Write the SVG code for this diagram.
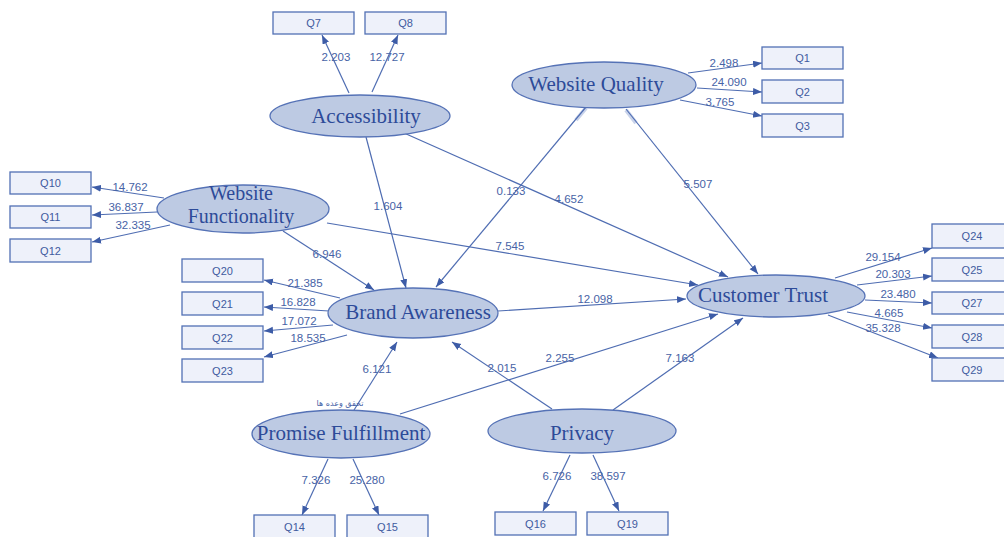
<svg xmlns="http://www.w3.org/2000/svg" width="1004" height="537" viewBox="0 0 1004 537">
<style>
.bg{fill:#ffffff}
.lat ellipse{fill:#bdcae3;stroke:#5572b6;stroke-width:1.3}
.lat text{font-family:"Liberation Serif",serif;font-size:21px;fill:#2d4b99;text-anchor:middle}
.lat text.two{font-size:20px}
.ind rect{fill:#eef1fa;stroke:#5270b4;stroke-width:1.3}
.ind text{font-family:"Liberation Sans",sans-serif;font-size:11px;fill:#3f5b9f;text-anchor:middle}
#connectors line{stroke:#4f6db2;stroke-width:1.2;marker-end:url(#arr)}
#connectors line.ghost{stroke:#c9d3ea;stroke-width:4;marker-end:none}
.lbl{font-family:"Liberation Sans",sans-serif;font-size:11.5px;fill:#4763a6;text-anchor:middle}
.fa{font-family:"DejaVu Sans",sans-serif;font-size:8px;fill:#4763a6;text-anchor:middle}
</style>
<defs>
<marker id="arr" markerUnits="userSpaceOnUse" markerWidth="10" markerHeight="8" refX="9" refY="3.5" orient="auto">
<path d="M0,0 L9,3.5 L0,7 z" fill="#3d5ca7"/>
</marker>
</defs>
<rect class="bg" x="0" y="0" width="1004" height="537"/>

<g id="connectors">
<line class="ghost" x1="586" y1="108" x2="576" y2="120"/>
<line class="ghost" x1="626" y1="110" x2="636" y2="123"/>
<!-- Accessibility -->
<line x1="349" y1="93" x2="322" y2="35"/>
<line x1="372" y1="92" x2="398" y2="35"/>
<line x1="366" y1="137" x2="406" y2="288"/>
<line x1="404" y1="133" x2="728" y2="277"/>
<!-- Website Quality -->
<line x1="688" y1="73" x2="762" y2="63"/>
<line x1="697" y1="88" x2="762" y2="92"/>
<line x1="680" y1="100" x2="762" y2="116"/>
<line x1="586" y1="107" x2="436" y2="287"/>
<line x1="626" y1="109" x2="758" y2="274"/>
<!-- Website Functionality -->
<line x1="164" y1="198" x2="92" y2="187"/>
<line x1="157" y1="212" x2="92" y2="215"/>
<line x1="170" y1="225" x2="92" y2="242"/>
<line x1="283" y1="231" x2="374" y2="290"/>
<line x1="327" y1="223" x2="698" y2="285"/>
<!-- Brand Awareness -->
<line x1="340" y1="298" x2="264" y2="280"/>
<line x1="329" y1="311" x2="264" y2="307"/>
<line x1="333" y1="325" x2="264" y2="331"/>
<line x1="347" y1="335" x2="264" y2="357"/>
<line x1="498" y1="311" x2="686" y2="299"/>
<!-- Customer Trust -->
<line x1="835" y1="278" x2="932" y2="248"/>
<line x1="857" y1="285" x2="932" y2="276"/>
<line x1="865" y1="300" x2="932" y2="303"/>
<line x1="847" y1="312" x2="932" y2="328"/>
<line x1="828" y1="315" x2="938" y2="358"/>
<!-- Promise Fulfillment -->
<line x1="354" y1="410" x2="397" y2="342"/>
<line x1="400" y1="414" x2="718" y2="314"/>
<line x1="328" y1="459" x2="302" y2="515"/>
<line x1="353" y1="459" x2="379" y2="515"/>
<!-- Privacy -->
<line x1="552" y1="409" x2="452" y2="342"/>
<line x1="613" y1="410" x2="743" y2="318"/>
<line x1="570" y1="455" x2="543" y2="511"/>
<line x1="593" y1="455" x2="619" y2="511"/>
</g>

<g id="labels">
<text class="lbl" x="336" y="61">2.203</text>
<text class="lbl" x="387" y="61">12.727</text>
<text class="lbl" x="724" y="67">2.498</text>
<text class="lbl" x="729" y="86">24.090</text>
<text class="lbl" x="720" y="106">3.765</text>
<text class="lbl" x="130" y="191">14.762</text>
<text class="lbl" x="126" y="211">36.837</text>
<text class="lbl" x="133" y="229">32.335</text>
<text class="lbl" x="388" y="210">1.604</text>
<text class="lbl" x="511" y="195">0.133</text>
<text class="lbl" x="569" y="203">4.652</text>
<text class="lbl" x="698" y="188">5.507</text>
<text class="lbl" x="327" y="258">6.946</text>
<text class="lbl" x="510" y="250">7.545</text>
<text class="lbl" x="305" y="287">21.385</text>
<text class="lbl" x="298" y="306">16.828</text>
<text class="lbl" x="299" y="325">17.072</text>
<text class="lbl" x="308" y="342">18.535</text>
<text class="lbl" x="595" y="303">12.098</text>
<text class="lbl" x="883" y="261">29.154</text>
<text class="lbl" x="893" y="278">20.303</text>
<text class="lbl" x="898" y="298">23.480</text>
<text class="lbl" x="889" y="317">4.665</text>
<text class="lbl" x="883" y="332">35.328</text>
<text class="lbl" x="377" y="373">6.121</text>
<text class="lbl" x="560" y="362">2.255</text>
<text class="lbl" x="502" y="372">2.015</text>
<text class="lbl" x="680" y="362">7.163</text>
<text class="lbl" x="316" y="484">7.326</text>
<text class="lbl" x="367" y="484">25.280</text>
<text class="lbl" x="557" y="480">6.726</text>
<text class="lbl" x="608" y="480">38.597</text>
<text class="fa" x="340" y="406">تحقق وعده ها</text>
</g>

<g id="n-accessibility" class="lat"><ellipse cx="360" cy="116" rx="90" ry="21"/><text x="366" y="123">Accessibility</text></g>
<g id="n-website-quality" class="lat"><ellipse cx="604" cy="85" rx="92" ry="23"/><text x="596" y="91">Website Quality</text></g>
<g id="n-website-functionality" class="lat"><ellipse cx="243" cy="209" rx="86" ry="24"/><text class="two" x="241" y="200">Website</text><text class="two" x="241" y="223">Functionality</text></g>
<g id="n-brand-awareness" class="lat"><ellipse cx="413" cy="313" rx="85" ry="25"/><text x="418" y="319">Brand Awareness</text></g>
<g id="n-customer-trust" class="lat"><ellipse cx="776" cy="296" rx="89" ry="21"/><text x="763" y="302">Customer Trust</text></g>
<g id="n-promise-fulfillment" class="lat"><ellipse cx="341" cy="434" rx="89" ry="24"/><text x="341" y="440">Promise Fulfillment</text></g>
<g id="n-privacy" class="lat"><ellipse cx="582" cy="431" rx="94" ry="22"/><text x="582" y="440">Privacy</text></g>

<g id="n-q7" class="ind"><rect x="273" y="12" width="81" height="22"/><text x="313.5" y="27">Q7</text></g>
<g id="n-q8" class="ind"><rect x="365" y="12" width="81" height="22"/><text x="405.5" y="27">Q8</text></g>
<g id="n-q1" class="ind"><rect x="762" y="47" width="81" height="22"/><text x="802.5" y="62">Q1</text></g>
<g id="n-q2" class="ind"><rect x="762" y="80" width="81" height="23"/><text x="802.5" y="95.5">Q2</text></g>
<g id="n-q3" class="ind"><rect x="762" y="114" width="81" height="23"/><text x="802.5" y="129.5">Q3</text></g>
<g id="n-q10" class="ind"><rect x="10" y="172" width="81" height="22"/><text x="50.5" y="187">Q10</text></g>
<g id="n-q11" class="ind"><rect x="10" y="206" width="81" height="22"/><text x="50.5" y="221">Q11</text></g>
<g id="n-q12" class="ind"><rect x="10" y="239" width="81" height="23"/><text x="50.5" y="254.5">Q12</text></g>
<g id="n-q20" class="ind"><rect x="182" y="259" width="81" height="23"/><text x="222.5" y="274.5">Q20</text></g>
<g id="n-q21" class="ind"><rect x="182" y="292" width="81" height="23"/><text x="222.5" y="307.5">Q21</text></g>
<g id="n-q22" class="ind"><rect x="182" y="326" width="81" height="23"/><text x="222.5" y="341.5">Q22</text></g>
<g id="n-q23" class="ind"><rect x="182" y="359" width="81" height="23"/><text x="222.5" y="374.5">Q23</text></g>
<g id="n-q24" class="ind"><rect x="932" y="224" width="81" height="24"/><text x="972" y="240">Q24</text></g>
<g id="n-q25" class="ind"><rect x="932" y="258" width="81" height="23"/><text x="972" y="273.5">Q25</text></g>
<g id="n-q27" class="ind"><rect x="932" y="292" width="81" height="22"/><text x="972" y="307">Q27</text></g>
<g id="n-q28" class="ind"><rect x="932" y="325" width="81" height="23"/><text x="972" y="340.5">Q28</text></g>
<g id="n-q29" class="ind"><rect x="932" y="358" width="81" height="23"/><text x="972" y="373.5">Q29</text></g>
<g id="n-q14" class="ind"><rect x="254" y="515" width="81" height="24"/><text x="294.5" y="531">Q14</text></g>
<g id="n-q15" class="ind"><rect x="347" y="515" width="81" height="24"/><text x="387.5" y="531">Q15</text></g>
<g id="n-q16" class="ind"><rect x="495" y="512" width="81" height="23"/><text x="535.5" y="527.5">Q16</text></g>
<g id="n-q19" class="ind"><rect x="587" y="512" width="81" height="23"/><text x="627.5" y="527.5">Q19</text></g>
</svg>
